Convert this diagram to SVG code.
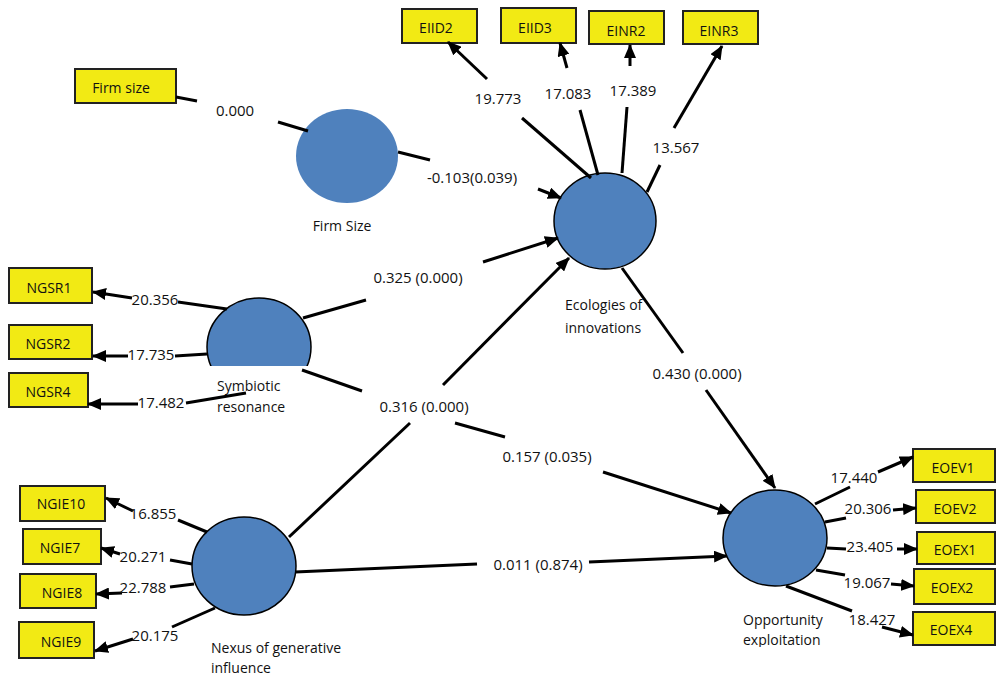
<svg xmlns="http://www.w3.org/2000/svg" width="996" height="682" viewBox="0 0 996 682">
<style>
text{font-family:"Open Sans","Liberation Sans",sans-serif;font-size:14px;fill:#111}
.c text{font-size:15px}
.box{fill:#F2EA14;stroke:#222;stroke-width:2}
.lv{fill:#4F81BD;stroke:#000;stroke-width:1.5}
.c line{stroke:#000;stroke-width:3}
.m{text-anchor:middle}
</style>
<defs>
<marker id="ah" markerUnits="userSpaceOnUse" markerWidth="14" markerHeight="12" refX="13" refY="6" orient="auto">
<path d="M0,0 L14,6 L0,12 z" fill="#000"/>
</marker>
<clipPath id="symclip"><rect x="190" y="280" width="140" height="86"/></clipPath>
<clipPath id="oppclip"><rect x="700" y="600" width="200" height="47"/></clipPath>
</defs>
<rect width="996" height="682" fill="#fff"/>

<g id="n-firmsize-box"><rect class="box" x="75" y="69" width="101" height="34"/><text class="m" x="121" y="93">Firm size</text></g>
<g id="n-firmsize"><ellipse cx="347" cy="156" rx="51" ry="47" fill="#4F81BD"/><text class="m" x="342" y="231">Firm Size</text></g>
<g id="n-eco"><ellipse class="lv" cx="605" cy="221" rx="51" ry="48"/><text x="565" y="310">Ecologies of</text><text x="565" y="333">innovations</text></g>
<g id="n-sym"><ellipse class="lv" cx="259" cy="347" rx="52" ry="49" clip-path="url(#symclip)"/><text x="217" y="391">Symbiotic</text><text x="217" y="412">resonance</text></g>
<g id="n-nexus"><ellipse class="lv" cx="244" cy="566" rx="52" ry="49"/><text x="211" y="653">Nexus of generative</text><text x="211" y="673">influence</text></g>
<g id="n-opp"><ellipse class="lv" cx="775" cy="538" rx="52" ry="48"/><text x="743" y="625">Opportunity</text><text x="743" y="645" clip-path="url(#oppclip)">exploitation</text></g>

<g id="n-EIID2"><rect class="box" x="402" y="9" width="75" height="34"/><text class="m" x="436" y="33">EIID2</text></g>
<g id="n-EIID3"><rect class="box" x="501" y="8" width="75" height="35"/><text class="m" x="535" y="33">EIID3</text></g>
<g id="n-EINR2"><rect class="box" x="589" y="11" width="75" height="33"/><text class="m" x="626" y="36">EINR2</text></g>
<g id="n-EINR3"><rect class="box" x="683" y="11" width="75" height="33"/><text class="m" x="719" y="36">EINR3</text></g>

<g id="n-NGSR1"><rect class="box" x="9" y="268" width="83" height="35"/><text class="m" x="49" y="293">NGSR1</text></g>
<g id="n-NGSR2"><rect class="box" x="9" y="325" width="83" height="34"/><text class="m" x="48" y="349">NGSR2</text></g>
<g id="n-NGSR4"><rect class="box" x="9" y="373" width="79" height="34"/><text class="m" x="48" y="397">NGSR4</text></g>

<g id="n-NGIE10"><rect class="box" x="20" y="486" width="85" height="35"/><text class="m" x="61" y="509">NGIE10</text></g>
<g id="n-NGIE7"><rect class="box" x="23" y="529" width="78" height="35"/><text class="m" x="60" y="553">NGIE7</text></g>
<g id="n-NGIE8"><rect class="box" x="20" y="574" width="76" height="34"/><text class="m" x="62" y="598">NGIE8</text></g>
<g id="n-NGIE9"><rect class="box" x="19" y="622" width="75" height="36"/><text class="m" x="61" y="647">NGIE9</text></g>

<g id="n-EOEV1"><rect class="box" x="913" y="449" width="82" height="33"/><text class="m" x="953" y="473">EOEV1</text></g>
<g id="n-EOEV2"><rect class="box" x="916" y="490" width="79" height="33"/><text class="m" x="955" y="514">EOEV2</text></g>
<g id="n-EOEX1"><rect class="box" x="917" y="532" width="78" height="32"/><text class="m" x="955" y="555">EOEX1</text></g>
<g id="n-EOEX2"><rect class="box" x="914" y="569" width="81" height="35"/><text class="m" x="952" y="593">EOEX2</text></g>
<g id="n-EOEX4"><rect class="box" x="913" y="612" width="82" height="33"/><text class="m" x="951" y="635">EOEX4</text></g>

<g id="connectors" class="c">
<line x1="176" y1="97" x2="197" y2="101"/><line x1="278" y1="122" x2="308" y2="131"/>
<text class="m" x="235" y="116">0.000</text>
<line x1="398" y1="152" x2="430" y2="160"/><line x1="538" y1="189" x2="561" y2="198" marker-end="url(#ah)"/>
<text class="m" x="472" y="183">-0.103(0.039)</text>

<line x1="591" y1="178" x2="522" y2="118"/><line x1="487" y1="79" x2="448" y2="42" marker-end="url(#ah)"/>
<text class="m" x="498" y="104">19.773</text>
<line x1="598" y1="175" x2="580" y2="110"/><line x1="567" y1="68" x2="560" y2="43" marker-end="url(#ah)"/>
<text class="m" x="568" y="99">17.083</text>
<line x1="622" y1="173" x2="627" y2="107"/><line x1="630" y1="66" x2="630" y2="45" marker-end="url(#ah)"/>
<text class="m" x="633" y="96">17.389</text>
<line x1="647" y1="192" x2="660" y2="165"/><line x1="674" y1="128" x2="722" y2="46" marker-end="url(#ah)"/>
<text class="m" x="676" y="153">13.567</text>

<line x1="303" y1="318" x2="366" y2="300"/><line x1="483" y1="262" x2="558" y2="238" marker-end="url(#ah)"/>
<text class="m" x="418" y="283">0.325 (0.000)</text>

<line x1="289" y1="537" x2="410" y2="423"/><line x1="443" y1="385" x2="569" y2="258" marker-end="url(#ah)"/>
<text class="m" x="424" y="412">0.316 (0.000)</text>

<line x1="302" y1="370" x2="362" y2="391"/><line x1="455" y1="423" x2="505" y2="437"/><line x1="603" y1="472" x2="731" y2="513" marker-end="url(#ah)"/>
<text class="m" x="547" y="462">0.157 (0.035)</text>

<line x1="295" y1="572" x2="477" y2="564"/><line x1="589" y1="562" x2="727" y2="556" marker-end="url(#ah)"/>
<text class="m" x="538" y="570">0.011 (0.874)</text>

<line x1="622" y1="268" x2="683" y2="353"/><line x1="706" y1="390" x2="775" y2="488" marker-end="url(#ah)"/>
<text class="m" x="697" y="379">0.430 (0.000)</text>

<line x1="227" y1="309" x2="178" y2="302"/><line x1="132" y1="298" x2="93" y2="292" marker-end="url(#ah)"/>
<text class="m" x="155" y="305">20.356</text>
<line x1="207" y1="354" x2="175" y2="356"/><line x1="128" y1="356" x2="93" y2="356" marker-end="url(#ah)"/>
<text class="m" x="151" y="360">17.735</text>
<line x1="246" y1="393" x2="186" y2="403"/><line x1="138" y1="404" x2="88" y2="404" marker-end="url(#ah)"/>
<text class="m" x="161" y="408">17.482</text>

<line x1="207" y1="532" x2="178" y2="520"/><line x1="133" y1="511" x2="106" y2="498" marker-end="url(#ah)"/>
<text class="m" x="153" y="519">16.855</text>
<line x1="192" y1="564" x2="170" y2="560"/><line x1="120" y1="554" x2="101" y2="548" marker-end="url(#ah)"/>
<text class="m" x="143" y="562">20.271</text>
<line x1="194" y1="584" x2="170" y2="587"/><line x1="122" y1="593" x2="96" y2="594" marker-end="url(#ah)"/>
<text class="m" x="143" y="593">22.788</text>
<line x1="215" y1="608" x2="172" y2="627"/><line x1="133" y1="639" x2="95" y2="651" marker-end="url(#ah)"/>
<text class="m" x="155" y="641">20.175</text>

<line x1="815" y1="504" x2="850" y2="487"/><line x1="878" y1="472" x2="913" y2="457" marker-end="url(#ah)"/>
<text class="m" x="854" y="483">17.440</text>
<line x1="825" y1="522" x2="846" y2="518"/><line x1="893" y1="510" x2="916" y2="508" marker-end="url(#ah)"/>
<text class="m" x="868" y="514">20.306</text>
<line x1="827" y1="548" x2="846" y2="549"/><line x1="897" y1="549" x2="917" y2="549" marker-end="url(#ah)"/>
<text class="m" x="870" y="552">23.405</text>
<line x1="816" y1="570" x2="845" y2="575"/><line x1="891" y1="584" x2="914" y2="586" marker-end="url(#ah)"/>
<text class="m" x="867" y="588">19.067</text>
<line x1="786" y1="586" x2="852" y2="611"/><line x1="882" y1="627" x2="913" y2="635" marker-end="url(#ah)"/>
<text class="m" x="872" y="625">18.427</text>
</g>
</svg>
